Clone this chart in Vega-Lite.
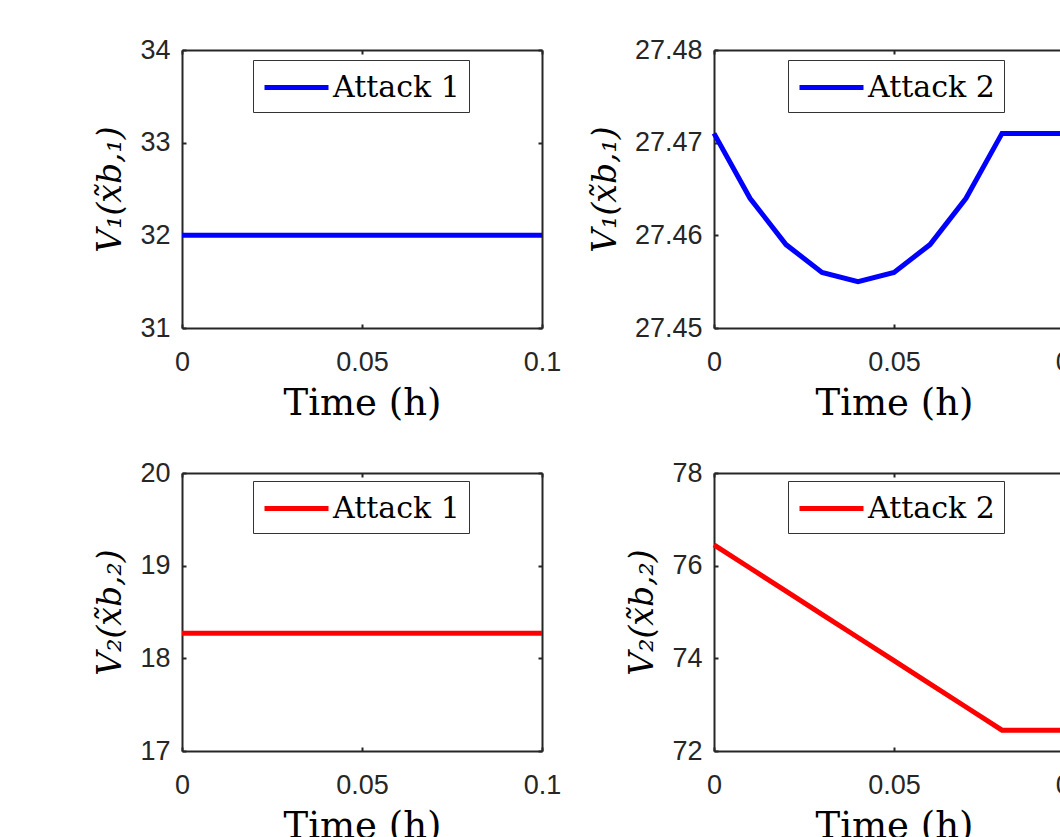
{
  "$schema": "https://vega.github.io/schema/vega-lite/v6.json",
  "background": "white",
  "padding": {"left": 94, "top": 36, "right": 5, "bottom": 5},
  "datasets": {
    "p1": [
      {"t": 0, "v": 32, "series": "Attack 1"}, {"t": 0.01, "v": 32, "series": "Attack 1"}, {"t": 0.02, "v": 32, "series": "Attack 1"},
      {"t": 0.03, "v": 32, "series": "Attack 1"}, {"t": 0.04, "v": 32, "series": "Attack 1"}, {"t": 0.05, "v": 32, "series": "Attack 1"},
      {"t": 0.06, "v": 32, "series": "Attack 1"}, {"t": 0.07, "v": 32, "series": "Attack 1"}, {"t": 0.08, "v": 32, "series": "Attack 1"},
      {"t": 0.09, "v": 32, "series": "Attack 1"}, {"t": 0.1, "v": 32, "series": "Attack 1"}
    ],
    "p2": [
      {"t": 0, "v": 27.471, "series": "Attack 2"}, {"t": 0.01, "v": 27.464, "series": "Attack 2"}, {"t": 0.02, "v": 27.459, "series": "Attack 2"},
      {"t": 0.03, "v": 27.456, "series": "Attack 2"}, {"t": 0.04, "v": 27.455, "series": "Attack 2"}, {"t": 0.05, "v": 27.456, "series": "Attack 2"},
      {"t": 0.06, "v": 27.459, "series": "Attack 2"}, {"t": 0.07, "v": 27.464, "series": "Attack 2"}, {"t": 0.08, "v": 27.471, "series": "Attack 2"},
      {"t": 0.09, "v": 27.471, "series": "Attack 2"}, {"t": 0.1, "v": 27.471, "series": "Attack 2"}
    ],
    "p3": [
      {"t": 0, "v": 18.27, "series": "Attack 1"}, {"t": 0.01, "v": 18.27, "series": "Attack 1"}, {"t": 0.02, "v": 18.27, "series": "Attack 1"},
      {"t": 0.03, "v": 18.27, "series": "Attack 1"}, {"t": 0.04, "v": 18.27, "series": "Attack 1"}, {"t": 0.05, "v": 18.27, "series": "Attack 1"},
      {"t": 0.06, "v": 18.27, "series": "Attack 1"}, {"t": 0.07, "v": 18.27, "series": "Attack 1"}, {"t": 0.08, "v": 18.27, "series": "Attack 1"},
      {"t": 0.09, "v": 18.27, "series": "Attack 1"}, {"t": 0.1, "v": 18.27, "series": "Attack 1"}
    ],
    "p4": [
      {"t": 0, "v": 76.45, "series": "Attack 2"}, {"t": 0.01, "v": 75.95, "series": "Attack 2"}, {"t": 0.02, "v": 75.45, "series": "Attack 2"},
      {"t": 0.03, "v": 74.95, "series": "Attack 2"}, {"t": 0.04, "v": 74.45, "series": "Attack 2"}, {"t": 0.05, "v": 73.95, "series": "Attack 2"},
      {"t": 0.06, "v": 73.45, "series": "Attack 2"}, {"t": 0.07, "v": 72.95, "series": "Attack 2"}, {"t": 0.08, "v": 72.45, "series": "Attack 2"},
      {"t": 0.09, "v": 72.45, "series": "Attack 2"}, {"t": 0.1, "v": 72.45, "series": "Attack 2"}
    ]
  },
  "columns": 2,
  "spacing": {"row": 145, "column": 172},
  "bounds": "flush",
  "concat": [
    {
      "width": 360, "height": 278,
      "data": {"name": "p1"},
      "layer": [
        {
          "mark": {"type": "line", "strokeWidth": 5},
          "encoding": {
            "x": {"field": "t", "type": "quantitative", "scale": {"domain": [0, 0.1], "nice": false, "zero": false},
                  "axis": {"title": "Time (h)", "values": [0, 0.05, 0.1], "format": "~g"}},
            "y": {"field": "v", "type": "quantitative", "scale": {"domain": [31, 34], "nice": false, "zero": false},
                  "axis": {"title": "V₁(x̃b,₁)", "values": [31, 32, 33, 34], "format": "d"}},
            "color": {"field": "series", "type": "nominal", "scale": {"domain": ["Attack 1"], "range": ["#0000ff"]},
                      "legend": {"title": null, "orient": "none", "legendX": 71, "legendY": 10}}
          }
        },
        {
          "mark": {"type": "line", "opacity": 0},
          "encoding": {
            "x": {"field": "t", "type": "quantitative", "scale": {"domain": [0, 0.1], "nice": false, "zero": false},
                  "axis": {"orient": "top", "labels": false, "title": null, "values": [0, 0.05, 0.1]}},
            "y": {"field": "v", "type": "quantitative", "scale": {"domain": [31, 34], "nice": false, "zero": false},
                  "axis": {"orient": "right", "labels": false, "title": null, "values": [31, 32, 33, 34]}}
          }
        }
      ],
      "resolve": {"axis": {"x": "independent", "y": "independent"}}
    },
    {
      "width": 360, "height": 278,
      "data": {"name": "p2"},
      "layer": [
        {
          "mark": {"type": "line", "strokeWidth": 5},
          "encoding": {
            "x": {"field": "t", "type": "quantitative", "scale": {"domain": [0, 0.1], "nice": false, "zero": false},
                  "axis": {"title": "Time (h)", "values": [0, 0.05, 0.1], "format": "~g"}},
            "y": {"field": "v", "type": "quantitative", "scale": {"domain": [27.45, 27.48], "nice": false, "zero": false},
                  "axis": {"title": "V₁(x̃b,₁)", "values": [27.45, 27.46, 27.47, 27.48], "format": ".2f"}},
            "color": {"field": "series", "type": "nominal", "scale": {"domain": ["Attack 2"], "range": ["#0000ff"]},
                      "legend": {"title": null, "orient": "none", "legendX": 74, "legendY": 10}}
          }
        },
        {
          "mark": {"type": "line", "opacity": 0},
          "encoding": {
            "x": {"field": "t", "type": "quantitative", "scale": {"domain": [0, 0.1], "nice": false, "zero": false},
                  "axis": {"orient": "top", "labels": false, "title": null, "values": [0, 0.05, 0.1]}},
            "y": {"field": "v", "type": "quantitative", "scale": {"domain": [27.45, 27.48], "nice": false, "zero": false},
                  "axis": {"orient": "right", "labels": false, "title": null, "values": [27.45, 27.46, 27.47, 27.48]}}
          }
        }
      ],
      "resolve": {"axis": {"x": "independent", "y": "independent"}}
    },
    {
      "width": 360, "height": 278,
      "data": {"name": "p3"},
      "layer": [
        {
          "mark": {"type": "line", "strokeWidth": 5},
          "encoding": {
            "x": {"field": "t", "type": "quantitative", "scale": {"domain": [0, 0.1], "nice": false, "zero": false},
                  "axis": {"title": "Time (h)", "values": [0, 0.05, 0.1], "format": "~g"}},
            "y": {"field": "v", "type": "quantitative", "scale": {"domain": [17, 20], "nice": false, "zero": false},
                  "axis": {"title": "V₂(x̃b,₂)", "values": [17, 18, 19, 20], "format": "d"}},
            "color": {"field": "series", "type": "nominal", "scale": {"domain": ["Attack 1"], "range": ["#ff0000"]},
                      "legend": {"title": null, "orient": "none", "legendX": 71, "legendY": 8}}
          }
        },
        {
          "mark": {"type": "line", "opacity": 0},
          "encoding": {
            "x": {"field": "t", "type": "quantitative", "scale": {"domain": [0, 0.1], "nice": false, "zero": false},
                  "axis": {"orient": "top", "labels": false, "title": null, "values": [0, 0.05, 0.1]}},
            "y": {"field": "v", "type": "quantitative", "scale": {"domain": [17, 20], "nice": false, "zero": false},
                  "axis": {"orient": "right", "labels": false, "title": null, "values": [17, 18, 19, 20]}}
          }
        }
      ],
      "resolve": {"axis": {"x": "independent", "y": "independent"}}
    },
    {
      "width": 360, "height": 278,
      "data": {"name": "p4"},
      "layer": [
        {
          "mark": {"type": "line", "strokeWidth": 5},
          "encoding": {
            "x": {"field": "t", "type": "quantitative", "scale": {"domain": [0, 0.1], "nice": false, "zero": false},
                  "axis": {"title": "Time (h)", "values": [0, 0.05, 0.1], "format": "~g"}},
            "y": {"field": "v", "type": "quantitative", "scale": {"domain": [72, 78], "nice": false, "zero": false},
                  "axis": {"title": "V₂(x̃b,₂)", "values": [72, 74, 76, 78], "format": "d"}},
            "color": {"field": "series", "type": "nominal", "scale": {"domain": ["Attack 2"], "range": ["#ff0000"]},
                      "legend": {"title": null, "orient": "none", "legendX": 74, "legendY": 8}}
          }
        },
        {
          "mark": {"type": "line", "opacity": 0},
          "encoding": {
            "x": {"field": "t", "type": "quantitative", "scale": {"domain": [0, 0.1], "nice": false, "zero": false},
                  "axis": {"orient": "top", "labels": false, "title": null, "values": [0, 0.05, 0.1]}},
            "y": {"field": "v", "type": "quantitative", "scale": {"domain": [72, 78], "nice": false, "zero": false},
                  "axis": {"orient": "right", "labels": false, "title": null, "values": [72, 74, 76, 78]}}
          }
        }
      ],
      "resolve": {"axis": {"x": "independent", "y": "independent"}}
    }
  ],
  "resolve": {"scale": {"color": "independent"}},
  "config": {
    "view": {"stroke": null},
    "axis": {
      "grid": false,
      "domainColor": "#262626", "domainWidth": 2,
      "tickColor": "#262626", "tickWidth": 2, "tickSize": -4,
      "labelFont": "Liberation Sans", "labelFontSize": 27, "labelColor": "#262626",
      "labelFlush": false, "labelOverlap": false,
      "titleFont": "DejaVu Serif", "titleColor": "#000000", "titleFontWeight": "normal"
    },
    "axisX": {"labelPadding": 25, "titleFontSize": 37, "titlePadding": 10},
    "axisY": {"labelPadding": 16, "titleFontSize": 33, "titlePadding": 12, "titleFontStyle": "italic"},
    "legend": {
      "symbolType": "M-1,0H3", "symbolSize": 1024, "symbolStrokeWidth": 5,
      "labelFont": "DejaVu Serif", "labelFontSize": 30, "labelColor": "#000000", "labelOffset": 34,
      "strokeColor": "#333333", "fillColor": "white", "padding": 9
    }
  }
}
